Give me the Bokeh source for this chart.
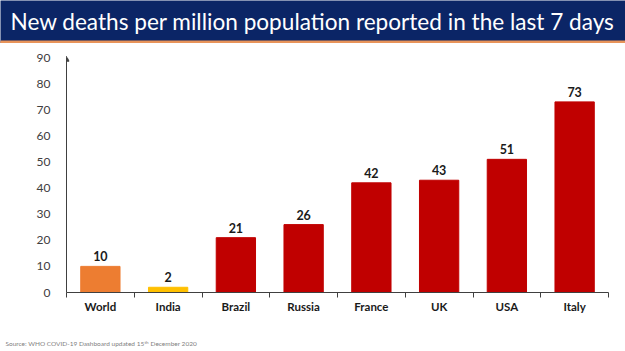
from bokeh.plotting import figure
from bokeh.layouts import column
from bokeh.models import (Range1d, FixedTicker, Arrow, NormalHead, ColumnDataSource, LabelSet)
from bokeh.core.properties import value
from bokeh.embed import file_html
from bokeh.resources import INLINE

categories = ["World", "India", "Brazil", "Russia", "France", "UK", "USA", "Italy"]
values = [10, 2, 21, 26, 42, 43, 51, 73]
bar_colors = ["#ED7D31", "#FFC000", "#C00000", "#C00000", "#C00000", "#C00000", "#C00000", "#C00000"]
y_ticks = [0, 10, 20, 30, 40, 50, 60, 70, 80, 90]
title_text = "New deaths per million population reported in the last 7 days"
source_text = "Source: WHO COVID-19 Dashboard updated 15"
source_sup = "th"
source_tail = "December 2020"

W = 625
BANNER_H, CHART_H, SRC_H = 43, 292, 16
FONT = "Lato"


def bare(fig, h):
    fig.axis.visible = False
    fig.grid.visible = False
    fig.outline_line_color = None
    fig.min_border = 0
    fig.frame_width = W
    fig.frame_height = h
    return fig


# ---- banner
b = figure(width=W, height=BANNER_H, output_backend="svg", toolbar_location=None,
           x_range=Range1d(0, W), y_range=Range1d(0, BANNER_H), x_axis_location=None,
           y_axis_location=None)
bare(b, BANNER_H)
b.background_fill_color = "#0b2566"
b.border_fill_color = "#0b2566"
b.quad(left=[0], right=[W], bottom=[0], top=[2.5], color="#E8945A")
b.text(x=[10], y=[22.5], text=[title_text], text_color="white", text_font=value(FONT),
       text_font_size="22.6px", text_baseline="middle")

# ---- chart
p = figure(width=W, height=CHART_H, output_backend="svg", toolbar_location=None,
           x_range=Range1d(0, len(categories)), y_range=Range1d(0, 90),
           min_border_left=66, min_border_right=17, min_border_top=14, min_border_bottom=43)
p.outline_line_color = None
p.xgrid.visible = False
p.ygrid.visible = False

xs = [i + 0.5 for i in range(len(categories))]
src = ColumnDataSource(dict(x=xs, top=values, color=bar_colors, lab=[str(v) for v in values]))
p.vbar(x="x", top="top", width=0.58, color="color", source=src)
p.add_layout(LabelSet(x="x", y="top", text="lab", source=src, text_align="center",
                      text_baseline="bottom", y_offset=5, text_font=value(FONT),
                      text_font_style="bold", text_font_size="12.5px", text_color="#1a1a1a"))

xa = p.xaxis[0]
xa.ticker = FixedTicker(ticks=xs, minor_ticks=list(range(len(categories) + 1)))
xa.major_label_overrides = {x: c for x, c in zip(xs, categories)}
xa.major_tick_line_color = None
xa.minor_tick_in = 0
xa.minor_tick_out = 5
xa.minor_tick_line_color = "#404040"
xa.axis_line_color = "#404040"
xa.major_label_text_font = FONT
xa.major_label_text_font_style = "bold"
xa.major_label_text_font_size = "11.5px"
xa.major_label_text_color = "#1a1a1a"
xa.major_label_standoff = 1

ya = p.yaxis[0]
ya.ticker = FixedTicker(ticks=y_ticks)
ya.major_tick_line_color = None
ya.minor_tick_line_color = None
ya.axis_line_color = "#404040"
ya.major_label_text_font = FONT
ya.major_label_text_font_size = "12px"
ya.major_label_text_color = "#404040"
ya.major_label_standoff = 10

p.add_layout(Arrow(x_start=0, y_start=85, x_end=0, y_end=90.5, line_color="#404040",
                   line_width=1, end=NormalHead(size=5, fill_color="#404040", line_color="#404040")))

# ---- source
s = figure(width=W, height=SRC_H, output_backend="svg", toolbar_location=None,
           x_range=Range1d(0, W), y_range=Range1d(0, SRC_H), x_axis_location=None,
           y_axis_location=None)
bare(s, SRC_H)
s.text(x=[5], y=[8], text=[source_text], text_color="#808080", text_font=value(FONT),
       text_font_size="6.5px", text_baseline="middle")
s.text(x=[144], y=[9.5], text=[source_sup], text_color="#808080", text_font=value(FONT),
       text_font_size="4.5px", text_baseline="middle")
s.text(x=[150], y=[8], text=[source_tail], text_color="#808080", text_font=value(FONT),
       text_font_size="6.5px", text_baseline="middle")

layout = column(column(b), column(p), column(s), spacing=0)
open("out.html", "w").write(file_html(layout, INLINE))
